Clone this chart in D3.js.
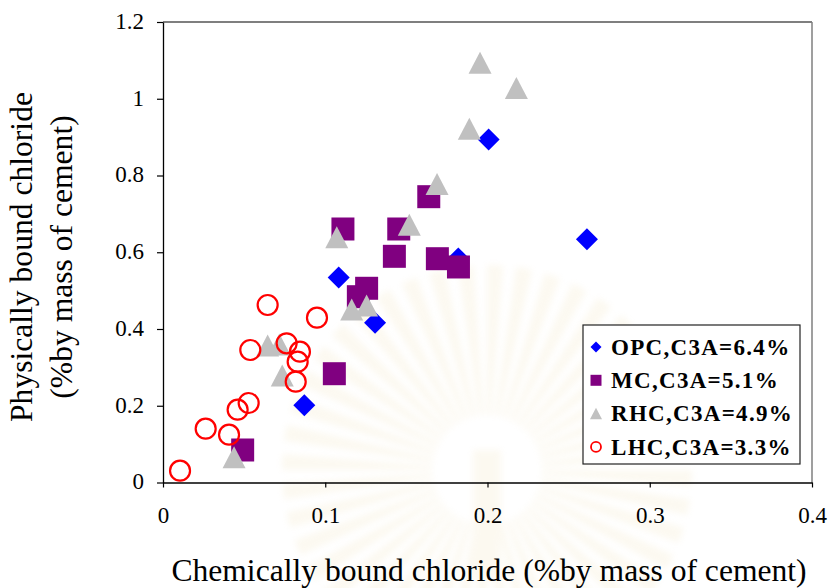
<!DOCTYPE html>
<html>
<head>
<meta charset="utf-8">
<script src="https://cdn.jsdelivr.net/npm/d3@7/dist/d3.min.js"></script>
<style>
  html, body { margin: 0; padding: 0; background: #fff; }
  svg { display: block; }
  text { font-family: "Liberation Serif", "Times New Roman", serif; fill: #000; }
</style>
</head>
<body>
<svg id="chart" width="829" height="588"></svg>
<script>
// Chemically vs physically bound chloride (% by mass of cement), four cements
const opcX = [0.0871, 0.1083, 0.1307, 0.1820, 0.2007, 0.2613];
const opcY = [0.2012, 0.5340, 0.4164, 0.5840, 0.8940, 0.6338];

const mcX = [0.1638, 0.1109, 0.1453, 0.1426, 0.1691, 0.1821, 0.1255, 0.1204, 0.1056, 0.0491];
const mcY = [0.7448, 0.6606, 0.6606, 0.5894, 0.5832, 0.5616, 0.5061, 0.4842, 0.2835, 0.0847];

const rhcX = [0.1954, 0.2178, 0.1888, 0.1689, 0.1518, 0.1071, 0.1163, 0.1255, 0.0645, 0.0717, 0.0735, 0.0438];
const rhcY = [1.0937, 1.0280, 0.9220, 0.7779, 0.6718, 0.6390, 0.4508, 0.4612, 0.3570, 0.3596, 0.2788, 0.0659];

const lhcX = [0.0645, 0.0949, 0.0538, 0.0762, 0.0844, 0.0830, 0.0818, 0.0528, 0.0460, 0.0263, 0.0407, 0.0105];
const lhcY = [0.4625, 0.4295, 0.3453, 0.3627, 0.3408, 0.3148, 0.2627, 0.2072, 0.1897, 0.1402, 0.1246, 0.0307];

const seriesNames = ["OPC,C3A=6.4%", "MC,C3A=5.1%", "RHC,C3A=4.9%", "LHC,C3A=3.3%"];

const xTicks = [0, 0.1, 0.2, 0.3, 0.4];
const xTickLabels = ["0", "0.1", "0.2", "0.3", "0.4"];
const yTicks = [0, 0.2, 0.4, 0.6, 0.8, 1.0, 1.2];
const yTickLabels = ["0", "0.2", "0.4", "0.6", "0.8", "1", "1.2"];

const xTitle = "Chemically bound chloride (%by mass of cement)";
const yTitle1 = "Physically bound chloride";
const yTitle2 = "(%by mass of cement)";

const svg = d3.select("#chart");
const plot = { left: 163, right: 812, top: 22, bottom: 482.5 };

const x = d3.scaleLinear().domain([0, 0.4]).range([plot.left, plot.right]);
const y = d3.scaleLinear().domain([0, 1.2]).range([plot.bottom, plot.top]);

// very faint emblem-like sunburst in the background
const defs = svg.append("defs");
defs.append("filter").attr("id", "soft")
  .append("feGaussianBlur").attr("stdDeviation", 3);
const burst = svg.append("g").attr("filter", "url(#soft)").attr("opacity", 0.12);
const cx = 487, cy = 470, rays = 44;
const rayArc = d3.arc();
for (let i = 0; i < rays; i++) {
  const a0 = (i / rays) * 2 * Math.PI;
  burst.append("path")
    .attr("transform", `translate(${cx},${cy})`)
    .attr("d", rayArc({ innerRadius: 55, outerRadius: 205, startAngle: a0, endAngle: a0 + (Math.PI * 2 / rays) * 0.55 }))
    .attr("fill", "#e8d08e");
}
burst.append("rect").attr("x", cx - 14).attr("y", cy - 20).attr("width", 28).attr("height", 130)
  .attr("fill", "#e8d08e");

// plot frame: top and right edges
svg.append("line").attr("x1", plot.left).attr("x2", plot.right)
  .attr("y1", plot.top).attr("y2", plot.top).attr("stroke", "#000").attr("stroke-width", 1.2);
svg.append("line").attr("x1", plot.right).attr("x2", plot.right)
  .attr("y1", plot.top).attr("y2", plot.bottom).attr("stroke", "#7f7f7f").attr("stroke-width", 1.5);

// axes
const xAxis = d3.axisBottom(x).tickValues(xTicks).tickFormat((d, i) => xTickLabels[i])
  .tickSize(5).tickSizeOuter(0);
const gx = svg.append("g").attr("transform", `translate(0,${plot.bottom})`).call(xAxis);
gx.select(".domain").attr("stroke", "#000").attr("stroke-width", 1.3);
gx.selectAll(".tick line").attr("stroke", "#000").attr("stroke-width", 1.2);
gx.selectAll(".tick text").attr("y", 40).attr("dy", 0)
  .style("font-size", "23px").style("font-family", "'Liberation Serif', serif");

const yAxis = d3.axisLeft(y).tickValues(yTicks).tickFormat((d, i) => yTickLabels[i])
  .tickSize(6).tickSizeOuter(0);
const gy = svg.append("g").attr("transform", `translate(${plot.left},0)`).call(yAxis);
gy.select(".domain").attr("stroke", "#000").attr("stroke-width", 1.3);
gy.selectAll(".tick line").attr("stroke", "#000").attr("stroke-width", 1.2);
gy.selectAll(".tick text").attr("x", -19).attr("dy", "0.28em")
  .style("font-size", "23px").style("font-family", "'Liberation Serif', serif");

// axis titles
svg.append("text").attr("x", 489).attr("y", 581).attr("text-anchor", "middle")
  .style("font-size", "31.6px").text(xTitle);
const yt = svg.append("g").attr("transform", "translate(0,257) rotate(-90)");
yt.append("text").attr("x", 0).attr("y", 32).attr("text-anchor", "middle")
  .style("font-size", "31.6px").text(yTitle1);
yt.append("text").attr("x", 0).attr("y", 72).attr("text-anchor", "middle")
  .style("font-size", "31.6px").text(yTitle2);

// marker shapes (s = full marker width in px)
const shapes = {
  diamond: s => `M0,${-s / 2}L${s / 2},0L0,${s / 2}L${-s / 2},0Z`,
  square: s => `M${-s / 2},${-s / 2}h${s}v${s}h${-s}Z`,
  triangle: s => `M0,${-s * 0.48}L${s / 2},${s * 0.48}L${-s / 2},${s * 0.48}Z`
};

const series = [
  { name: seriesNames[0], xs: opcX, ys: opcY, shape: "diamond", size: 22, fill: "#0000ff", legendSize: 11 },
  { name: seriesNames[1], xs: mcX, ys: mcY, shape: "square", size: 23, fill: "#800080", legendSize: 11 },
  { name: seriesNames[2], xs: rhcX, ys: rhcY, shape: "triangle", size: 23, fill: "#c0c0c0", legendSize: 12 },
  { name: seriesNames[3], xs: lhcX, ys: lhcY, shape: "circle", size: 20, fill: "none", stroke: "#ff0000", legendSize: 10 }
];

series.forEach(s => {
  const pts = s.xs.map((v, i) => ({ x: v, y: s.ys[i] }));
  const g = svg.append("g");
  if (s.shape === "circle") {
    g.selectAll("circle").data(pts).join("circle")
      .attr("cx", d => x(d.x)).attr("cy", d => y(d.y)).attr("r", s.size / 2)
      .attr("fill", "none").attr("stroke", s.stroke).attr("stroke-width", 2.2);
  } else {
    g.selectAll("path").data(pts).join("path")
      .attr("transform", d => `translate(${x(d.x)},${y(d.y)})`)
      .attr("d", shapes[s.shape](s.size)).attr("fill", s.fill);
  }
});

// legend
const lg = svg.append("g");
lg.append("rect").attr("x", 583).attr("y", 325).attr("width", 217).attr("height", 139)
  .attr("fill", "#fff").attr("stroke", "#222").attr("stroke-width", 1.2);
series.forEach((s, i) => {
  const ry = 347 + i * 33.3;
  if (s.shape === "circle") {
    lg.append("circle").attr("cx", 596).attr("cy", ry).attr("r", s.legendSize / 2)
      .attr("fill", "none").attr("stroke", s.stroke).attr("stroke-width", 1.8);
  } else {
    lg.append("path").attr("transform", `translate(596,${ry})`)
      .attr("d", shapes[s.shape](s.legendSize)).attr("fill", s.fill);
  }
  lg.append("text").attr("x", 611).attr("y", ry).attr("dy", "0.34em")
    .style("font-size", "23px").style("font-weight", "bold").style("letter-spacing", "1.3px")
    .text(s.name);
});
</script>
</body>
</html>
